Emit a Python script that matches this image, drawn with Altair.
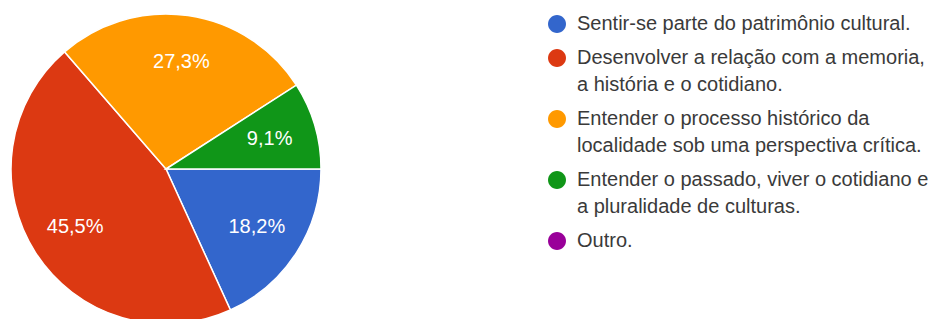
import math
import altair as alt
import pandas as pd

# ---- data ----
categories = [
    "Sentir-se parte do patrimônio cultural.",
    "Desenvolver a relação com a memoria,\na história e o cotidiano.",
    "Entender o processo histórico da\nlocalidade sob uma perspectiva crítica.",
    "Entender o passado, viver o cotidiano e\na pluralidade de culturas.",
    "Outro.",
]
percentages = [18.2, 45.5, 27.3, 9.1, 0.0]
colors = ["#3366cc", "#dc3912", "#ff9900", "#109618", "#990099"]

df = pd.DataFrame({
    "cat": categories,
    "value": percentages,
    "idx": list(range(len(categories))),
    "label": [f"{v:.1f}".replace(".", ",") + "%" for v in percentages],
})

FONT = "Liberation Sans, Arial, sans-serif"

# circle symbol (radius R units), drawn below the entry's anchor so it lines
# up with the first line of a top-aligned (possibly multi-line) label
c = 2.0
R = 1.8
k = 0.5523 * R
circle_path = (
    f"M 0 {c-R:.3f} "
    f"C {k:.3f} {c-R:.3f} {R} {c-k:.3f} {R} {c:.3f} "
    f"C {R} {c+k:.3f} {k:.3f} {c+R:.3f} 0 {c+R:.3f} "
    f"C {-k:.3f} {c+R:.3f} {-R} {c+k:.3f} {-R} {c:.3f} "
    f"C {-R} {c-k:.3f} {-k:.3f} {c-R:.3f} 0 {c-R:.3f} Z"
)

base = alt.Chart(df).transform_filter("datum.value > 0").encode(
    theta=alt.Theta(
        "value:Q",
        stack=True,
        scale=alt.Scale(range=[math.pi / 2, math.pi / 2 + 2 * math.pi]),
    ),
    order=alt.Order("idx:Q"),
)

arcs = base.mark_arc(outerRadius=155, stroke="white", strokeWidth=1.5).encode(
    color=alt.Color(
        "cat:N",
        scale=alt.Scale(domain=categories, range=colors),
        legend=alt.Legend(
            title=None,
            orient="none",
            legendX=538,
            legendY=-4,
            padding=0,
            symbolType=circle_path,
            symbolSize=100,
            symbolStrokeWidth=0,
            symbolOpacity=1,
            labelFont=FONT,
            labelFontSize=20,
            labelColor="#3a3a3a",
            labelBaseline="top",
            labelLimit=600,
            labelOffset=10,
            rowPadding=4,
            labelExpr="split(datum.label, '\\n')",
        ),
    )
)

labels = base.mark_text(
    radius=108, fill="white", font=FONT, fontSize=20
).encode(text="label:N")

chart = (
    alt.layer(arcs, labels)
    .properties(
        width=314,
        height=322,
        padding={"top": -4, "left": 0, "right": 0, "bottom": 0},
    )
    .configure(style={"guide-label": {"lineHeight": 27}})
    .configure_view(stroke=None)
)

chart.save("out.html", embed_options={"renderer": "svg", "actions": False})
